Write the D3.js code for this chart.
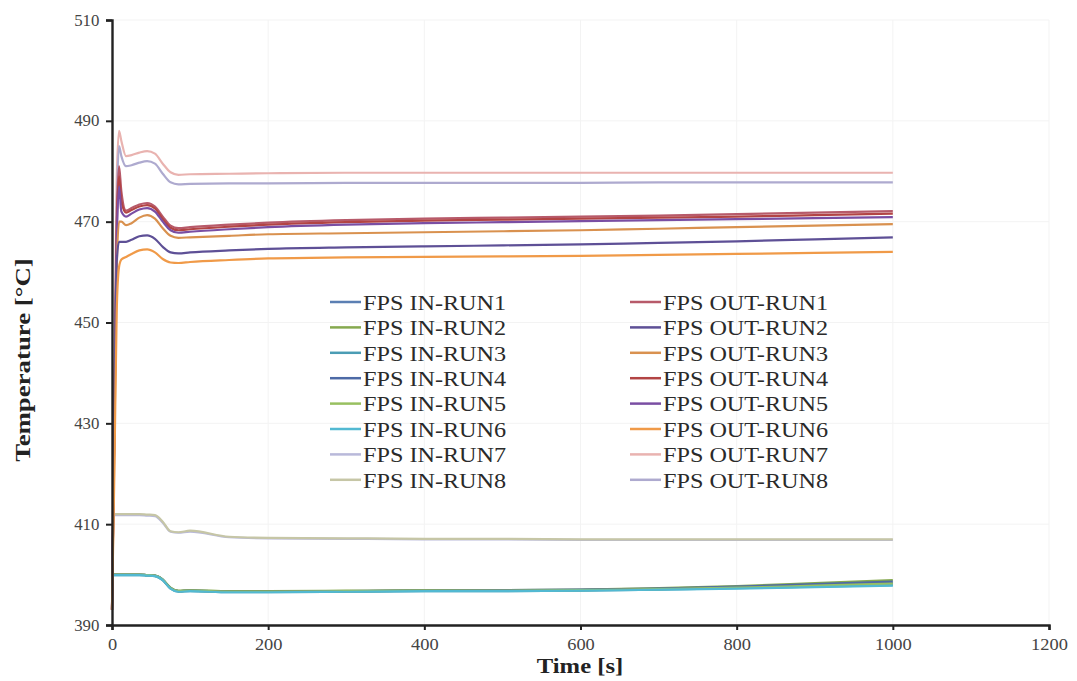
<!DOCTYPE html>
<html>
<head>
<meta charset="utf-8">
<script src="https://cdn.jsdelivr.net/npm/d3@7"></script>
<style>
  body { margin: 0; background: #fff; }
  svg { display: block; }
  text { font-family: "Liberation Serif", "Times New Roman", serif; }
</style>
</head>
<body>
<svg id="chart" width="1077" height="681"></svg>
<script>
// ---------- data ----------
const times = [0, 3, 6, 9, 12, 18, 25, 35, 45, 55, 65, 75, 85, 100, 150, 200, 300, 400, 500, 600, 700, 800, 900, 1000];

const inRun1 = [400, 400, 400, 400, 400, 400, 400, 400, 399.9, 399.8, 399.0, 397.3, 396.7, 396.8, 396.6, 396.6, 396.7, 396.8, 396.8, 396.9, 397.1, 397.4, 397.8, 398.3];
const inRun2 = [400, 400, 400, 400, 400, 400, 400, 400, 399.9, 399.8, 399.0, 397.4, 396.8, 396.9, 396.7, 396.7, 396.8, 396.9, 396.9, 397.0, 397.3, 397.7, 398.3, 398.9];
const inRun3 = [399.9, 399.9, 399.9, 399.9, 399.9, 399.9, 399.9, 399.9, 399.8, 399.7, 398.9, 397.2, 396.6, 396.7, 396.5, 396.5, 396.6, 396.7, 396.7, 396.8, 397.0, 397.3, 397.6, 397.9];
const inRun4 = [400, 400, 400, 400, 400, 400, 400, 400, 399.9, 399.8, 399.0, 397.3, 396.7, 396.8, 396.6, 396.6, 396.7, 396.8, 396.9, 397.0, 397.2, 397.6, 398.1, 398.6];
const inRun5 = [400, 400, 400, 400, 400, 400, 400, 400, 399.9, 399.8, 399.0, 397.3, 396.7, 396.8, 396.6, 396.6, 396.7, 396.8, 396.8, 396.9, 397.1, 397.4, 397.8, 398.2];
const inRun6 = [399.9, 399.9, 399.9, 399.9, 399.9, 399.9, 399.9, 399.9, 399.8, 399.7, 398.9, 397.2, 396.6, 396.7, 396.5, 396.5, 396.6, 396.7, 396.7, 396.8, 397.0, 397.2, 397.5, 397.8];
const inRun7 = [411.8, 411.8, 411.8, 411.8, 411.8, 411.8, 411.8, 411.8, 411.7, 411.6, 410.3, 408.5, 408.3, 408.5, 407.4, 407.2, 407.1, 407.0, 407.0, 406.9, 406.9, 406.9, 406.9, 406.9];
const inRun8 = [412, 412, 412, 412, 412, 412, 412, 412, 411.9, 411.8, 410.5, 408.6, 408.4, 408.7, 407.5, 407.3, 407.2, 407.1, 407.1, 407.0, 407.0, 407.0, 407.0, 407.0];

const outRun1 = [393, 430, 470, 481, 476, 472.2, 472.7, 473.4, 473.7, 473.0, 471.0, 469.2, 468.7, 468.9, 469.4, 469.8, 470.3, 470.6, 470.8, 471.0, 471.2, 471.5, 471.8, 472.1];
const outRun2 = [393, 430, 462, 466, 466, 466, 466.4, 467.1, 467.3, 466.6, 465.0, 463.9, 463.7, 463.9, 464.3, 464.6, 464.9, 465.1, 465.3, 465.5, 465.8, 466.1, 466.5, 466.9];
const outRun3 = [393, 425, 460, 470, 470, 469.3, 469.7, 470.8, 471.3, 470.6, 468.7, 467.2, 466.8, 466.9, 467.2, 467.5, 467.7, 467.9, 468.1, 468.3, 468.6, 468.9, 469.2, 469.5];
const outRun4 = [393, 430, 468, 479, 474, 471.8, 472.3, 473.0, 473.3, 472.6, 470.5, 468.8, 468.3, 468.5, 469.0, 469.4, 469.9, 470.2, 470.4, 470.6, 470.8, 471.0, 471.3, 471.6];
const outRun5 = [393, 428, 465, 477, 472, 471.0, 471.6, 472.4, 472.7, 472.0, 470.0, 468.3, 467.8, 468.0, 468.5, 468.9, 469.4, 469.7, 469.9, 470.1, 470.3, 470.5, 470.7, 470.9];
const outRun6 = [393, 420, 452, 461, 462.5, 463.0, 463.6, 464.3, 464.5, 463.9, 462.6, 461.9, 461.8, 462.0, 462.4, 462.7, 462.9, 463.0, 463.1, 463.2, 463.4, 463.6, 463.8, 464.0];
const outRun7 = [393, 440, 478, 488, 486, 483.0, 483.2, 483.7, 484.0, 483.5, 481.5, 479.8, 479.3, 479.4, 479.5, 479.6, 479.7, 479.7, 479.7, 479.7, 479.7, 479.7, 479.7, 479.7];
const outRun8 = [393, 435, 472, 485, 483, 481.0, 481.2, 481.7, 482.0, 481.5, 479.5, 477.8, 477.4, 477.5, 477.6, 477.6, 477.7, 477.7, 477.7, 477.7, 477.8, 477.8, 477.8, 477.8];

const seriesNames = [
  "FPS IN-RUN1", "FPS IN-RUN2", "FPS IN-RUN3", "FPS IN-RUN4",
  "FPS IN-RUN5", "FPS IN-RUN6", "FPS IN-RUN7", "FPS IN-RUN8",
  "FPS OUT-RUN1", "FPS OUT-RUN2", "FPS OUT-RUN3", "FPS OUT-RUN4",
  "FPS OUT-RUN5", "FPS OUT-RUN6", "FPS OUT-RUN7", "FPS OUT-RUN8"
];
const seriesValues = [inRun1, inRun2, inRun3, inRun4, inRun5, inRun6, inRun7, inRun8,
                      outRun1, outRun2, outRun3, outRun4, outRun5, outRun6, outRun7, outRun8];
const seriesColors = [
  "#5b7fb3", "#86a94f", "#4a9cb4", "#4d6aa6", "#98c060", "#52b9d2", "#b9b9da", "#c6c6a6",
  "#b75a6a", "#5e5096", "#d9914f", "#b24444", "#7a4ea3", "#f09a48", "#e9b3b0", "#aeaacf"
];

const xTicks = [0, 200, 400, 600, 800, 1000, 1200];
const yTicks = [390, 410, 430, 450, 470, 490, 510];

// ---------- chart ----------
const svg = d3.select("#chart");
const x = d3.scaleLinear().domain([0, 1200]).range([112, 1049]);
const y = d3.scaleLinear().domain([390, 510]).range([625, 20]);

// faint gridlines
svg.append("g").selectAll("line").data(xTicks.slice(1)).join("line")
  .attr("x1", d => x(d)).attr("x2", d => x(d))
  .attr("y1", y(510)).attr("y2", y(390))
  .attr("stroke", "#f3f3f3").attr("stroke-width", 1);
svg.append("g").selectAll("line").data(yTicks.slice(1)).join("line")
  .attr("x1", x(0)).attr("x2", x(1200))
  .attr("y1", d => y(d)).attr("y2", d => y(d))
  .attr("stroke", "#f3f3f3").attr("stroke-width", 1);

// lines
const line = d3.line()
  .x((d, i) => x(times[i]))
  .y(d => y(d))
  .curve(d3.curveMonotoneX);

const drawOrder = [6, 7, 0, 1, 2, 3, 4, 5, 14, 15, 8, 11, 12, 10, 9, 13];
svg.append("g").selectAll("path").data(drawOrder).join("path")
  .attr("d", i => line(seriesValues[i]))
  .attr("fill", "none")
  .attr("stroke", i => seriesColors[i])
  .attr("stroke-width", 2.2);

// axes
const xAxis = d3.axisBottom(x).tickValues(xTicks).tickSize(5).tickFormat(d3.format("d"));
const yAxis = d3.axisLeft(y).tickValues(yTicks).tickSize(6).tickFormat(d3.format("d"));

const gx = svg.append("g").attr("transform", `translate(0,${y(390)})`).call(xAxis);
const gy = svg.append("g").attr("transform", `translate(${x(0)},0)`).call(yAxis);

[gx, gy].forEach(g => {
  g.select(".domain").attr("stroke", "#222").attr("stroke-width", 2.4);
  g.selectAll(".tick line").attr("stroke", "#222").attr("stroke-width", 2);
  g.selectAll(".tick text").attr("fill", "#444").style("font-size", "16px")
    .style("font-family", "'Liberation Serif', serif");
});
gx.selectAll(".tick text").attr("dy", "1.05em").attr("transform", "scale(1.15,1)");
gy.selectAll(".tick text").attr("x", -12).attr("transform", "scale(1.05,1)");

// axis titles
svg.append("text")
  .attr("transform", "translate(580,673) scale(1.12,1)")
  .attr("text-anchor", "middle")
  .style("font-size", "22px").style("font-weight", "bold").attr("fill", "#222")
  .text("Time [s]");
svg.append("text")
  .attr("transform", "translate(30,360) rotate(-90) scale(1.22,1)")
  .attr("text-anchor", "middle")
  .style("font-size", "22px").style("font-weight", "bold").attr("fill", "#222")
  .text("Temperature [°C]");

// legend
const legend = svg.append("g");
seriesNames.forEach((name, i) => {
  const col = i < 8 ? 0 : 1;
  const row = i % 8;
  const lx = col === 0 ? 330 : 630;
  const ly = 302 + row * 25.4;
  legend.append("line")
    .attr("x1", lx).attr("x2", lx + 31)
    .attr("y1", ly).attr("y2", ly)
    .attr("stroke", seriesColors[i]).attr("stroke-width", 2.5);
  legend.append("text")
    .attr("transform", `translate(${lx + 33},${ly}) scale(1.1,1)`)
    .attr("dy", "0.35em")
    .style("font-size", "22px").attr("fill", "#2a2a2a")
    .text(name);
});
</script>
</body>
</html>
